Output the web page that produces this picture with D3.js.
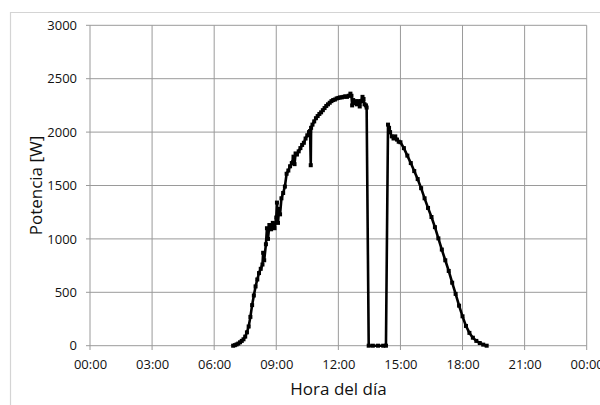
<!doctype html>
<html>
<head>
<meta charset="utf-8">
<script src="https://d3js.org/d3.v7.min.js"></script>
<style>
  body { margin: 0; background: #fff; }
  svg text { font-family: "Open Sans", sans-serif; fill: #111; }
</style>
</head>
<body>
<svg id="chart" width="600" height="405"></svg>
<script>
var horas = ["06:55","07:00","07:05","07:10","07:15","07:20","07:25","07:30","07:35","07:40",
  "07:45","07:50","07:55","08:00","08:05","08:10","08:15","08:20","08:22","08:25",
  "08:30","08:33","08:36","08:40","08:45","08:50","08:55","09:00","09:02","09:05",
  "09:08","09:11","09:15","09:20","09:25","09:30","09:35","09:40","09:45","09:50",
  "09:53","09:56","10:00","10:05","10:10","10:15","10:20","10:25","10:30","10:35",
  "10:38","10:40","10:41","10:45","10:50","10:55","11:00","11:05","11:10","11:15",
  "11:20","11:25","11:30","11:35","11:40","11:45","11:50","11:55","12:00","12:05",
  "12:10","12:15","12:20","12:25","12:30","12:35","12:38","12:40","12:43","12:46",
  "12:50","12:54","12:58","13:02","13:06","13:10","13:13","13:16","13:20","13:22",
  "13:28","13:40","13:55","14:10","14:18","14:24","14:27","14:30","14:35","14:40",
  "14:45","14:50","14:55","15:00","15:10","15:20","15:30","15:40","15:50","16:00",
  "16:10","16:20","16:30","16:40","16:50","17:00","17:10","17:20","17:30","17:40",
  "17:50","18:00","18:10","18:20","18:30","18:40","18:50","19:00","19:10"];
var potencia = [0,5,12,20,32,45,60,85,125,180,
  270,380,470,555,620,680,720,760,870,800,
  950,1100,1000,1130,1090,1150,1100,1200,1340,1150,
  1280,1230,1380,1430,1490,1610,1640,1680,1710,1770,
  1700,1800,1790,1820,1850,1880,1900,1940,1970,2000,
  2010,1690,2040,2070,2100,2130,2150,2170,2185,2205,
  2225,2245,2260,2275,2290,2300,2305,2315,2320,2325,
  2325,2330,2335,2330,2340,2360,2340,2250,2300,2270,
  2290,2260,2290,2240,2290,2330,2310,2260,2250,2230,
  0,0,0,0,0,2070,2040,2000,1960,1940,
  1960,1930,1910,1905,1850,1780,1710,1635,1560,1475,
  1380,1290,1205,1110,1005,900,800,700,590,485,
  375,275,185,120,75,45,25,10,0];
var yTicks = [0, 500, 1000, 1500, 2000, 2500, 3000];
var xTicks = ["00:00","03:00","06:00","09:00","12:00","15:00","18:00","21:00","24:00"];

var parse = d3.timeParse("%H:%M");
var dia0 = parse("00:00");
var dia1 = d3.timeDay.offset(dia0, 1);
var datos = horas.map(function(h, i) { return { t: parse(h), p: potencia[i] }; });
var xTickDates = xTicks.map(function(h) { return h == "24:00" ? dia1 : parse(h); });

var svg = d3.select("#chart");

// chart frame (cropped on the right and bottom)
svg.append("path")
  .attr("d", "M10.5,420V12.5H620")
  .attr("fill", "none")
  .attr("stroke", "#d4d4d4")
  .attr("stroke-width", 1.2);

var x = d3.scaleTime().domain([dia0, dia1]).range([90, 586.7]);
var y = d3.scaleLinear().domain([0, 3000]).range([345.7, 25.3]);

// grid
svg.append("g").selectAll("line").data(yTicks).enter().append("line")
  .attr("x1", 86).attr("x2", 586.7)
  .attr("y1", function(d) { return y(d); }).attr("y2", function(d) { return y(d); })
  .attr("stroke", "#9a9a9a").attr("stroke-width", 1);
svg.append("g").selectAll("line").data(xTickDates).enter().append("line")
  .attr("y1", 25.3).attr("y2", 350)
  .attr("x1", function(d) { return x(d); }).attr("x2", function(d) { return x(d); })
  .attr("stroke", "#9a9a9a").attr("stroke-width", 1);

// axes labels
var yAxis = d3.axisLeft(y).tickValues(yTicks).tickSize(0).tickPadding(13)
  .tickFormat(d3.format("d"));
var gy = svg.append("g").attr("transform", "translate(90,0)").call(yAxis);
var xAxis = d3.axisBottom(x).tickValues(xTickDates).tickSize(0).tickPadding(14)
  .tickFormat(d3.timeFormat("%H:%M"));
var gx = svg.append("g").attr("transform", "translate(0,345.7)").call(xAxis);
[gx, gy].forEach(function(g) {
  g.select(".domain").remove();
  g.selectAll("text").style("font-size", "13px").style("font-family", "'Open Sans', sans-serif").attr("fill", "#111");
});

// titles
svg.append("text")
  .attr("x", 338.5).attr("y", 395)
  .attr("text-anchor", "middle")
  .style("font-size", "17px")
  .text("Hora del día");
svg.append("text")
  .attr("transform", "translate(42,185.5) rotate(-90)")
  .attr("text-anchor", "middle")
  .style("font-size", "17px")
  .text("Potencia [W]");

// series
var line = d3.line().x(function(d) { return x(d.t); }).y(function(d) { return y(d.p); });
svg.append("path")
  .datum(datos)
  .attr("d", line)
  .attr("fill", "none")
  .attr("stroke", "#000")
  .attr("stroke-width", 2.6)
  .attr("stroke-linejoin", "round");
svg.append("g").selectAll("rect").data(datos).enter().append("rect")
  .attr("x", function(d) { return x(d.t) - 2; })
  .attr("y", function(d) { return y(d.p) - 2; })
  .attr("width", 4).attr("height", 4)
  .attr("fill", "#000");
</script>
</body>
</html>
